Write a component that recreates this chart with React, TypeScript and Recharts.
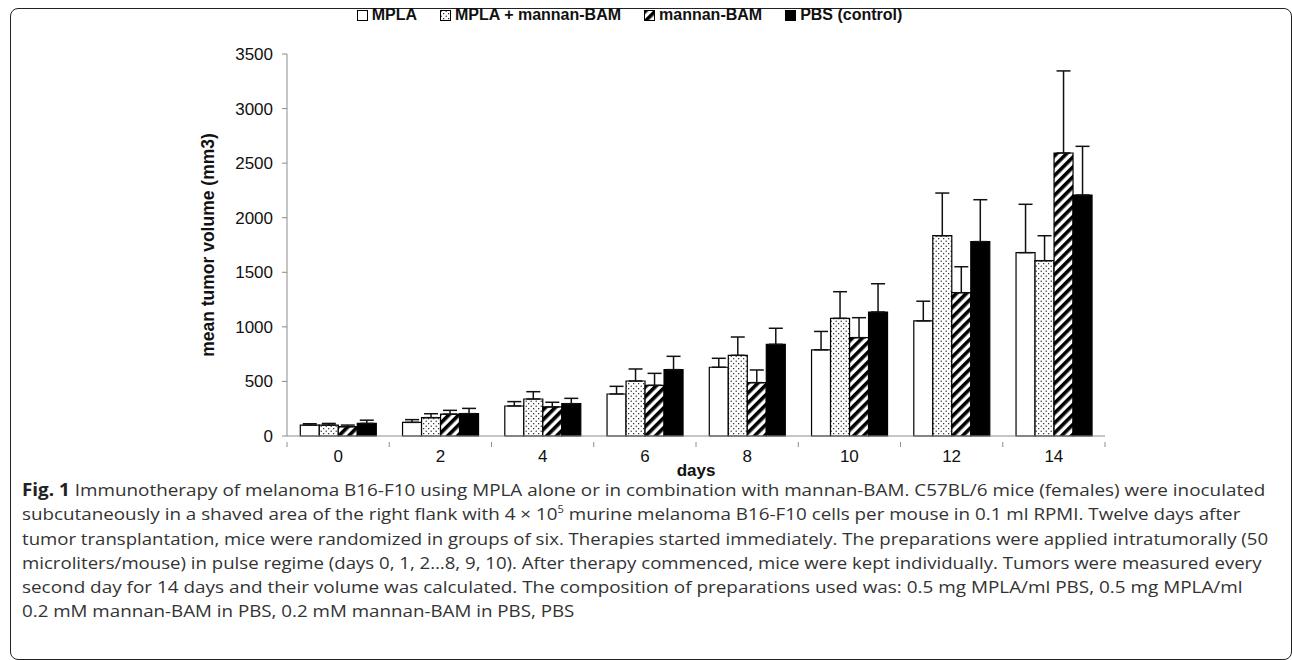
import React, { useLayoutEffect, useRef, useState } from 'react';
import { BarChart, Bar, XAxis, YAxis, ErrorBar } from 'recharts';

// days after therapy start
const DAYS = ['0', '2', '4', '6', '8', '10', '12', '14'];

// mean tumor volume (mm3) per group
const MPLA = [100, 125, 275, 385, 630, 790, 1055, 1680];
const MPLA_MANNAN = [100, 168, 339, 504, 739, 1078, 1835, 1606];
const MANNAN = [85, 200, 266, 464, 489, 901, 1313, 2593];
const PBS = [115, 205, 296, 608, 840, 1136, 1781, 2208];

// upper error (SD) per group
const MPLA_ERR = [12, 25, 40, 70, 82, 168, 180, 443];
const MPLA_MANNAN_ERR = [15, 36, 67, 110, 168, 244, 391, 229];
const MANNAN_ERR = [15, 35, 43, 110, 116, 183, 238, 752];
const PBS_ERR = [30, 48, 49, 122, 147, 259, 384, 446];

const Y_TICKS = [0, 500, 1000, 1500, 2000, 2500, 3000, 3500];

const SERIES = [
    { key: 'mpla', name: 'MPLA', fill: '#fff' },
    { key: 'mplaMannan', name: 'MPLA + mannan-BAM', fill: 'url(#dots)' },
    { key: 'mannan', name: 'mannan-BAM', fill: 'url(#hatch)' },
    { key: 'pbs', name: 'PBS (control)', fill: '#000' },
];

const data = DAYS.map((day, i) => ({
    day,
    mpla: MPLA[i],
    mplaErr: [0, MPLA_ERR[i]],
    mplaMannan: MPLA_MANNAN[i],
    mplaMannanErr: [0, MPLA_MANNAN_ERR[i]],
    mannan: MANNAN[i],
    mannanErr: [0, MANNAN_ERR[i]],
    pbs: PBS[i],
    pbsErr: [0, PBS_ERR[i]],
}));

const FONT = 'Arial, "Liberation Sans", sans-serif';
const AXIS = '#8c8c8c';

const CHART_W = 1292;
const CHART_H = 500;
const PLOT_TOP = 54;
const PLOT_BOTTOM = 436;
const PLOT_LEFT = 287;
const PLOT_RIGHT = 1105;
const BAND = (PLOT_RIGHT - PLOT_LEFT) / DAYS.length;

// caption lines as broken in the figure, with the x where each line ends
const CAPTION_LEFT = 22;
const CAPTION_ENDS = [1265, 1240, 1268, 1262, 1243, 0];

const Patterns = ({ suffix = '' }: { suffix?: string }) => (
    <defs>
        <pattern id={`dots${suffix}`} width="5" height="5" patternUnits="userSpaceOnUse">
            <rect width="5" height="5" fill="#fff" />
            <circle cx="1.2" cy="1.2" r="0.65" fill="#000" />
            <circle cx="3.7" cy="3.7" r="0.65" fill="#000" />
        </pattern>
        <pattern id={`hatch${suffix}`} width="7" height="7" patternUnits="userSpaceOnUse" patternTransform="rotate(45)">
            <rect width="7" height="7" fill="#fff" />
            <rect width="3.6" height="7" fill="#000" />
        </pattern>
    </defs>
);

// Excel-style category ticks: tick marks sit between the groups
const DayTick = ({ x, y, payload, index }: any) => (
    <g>
        <line x1={x - BAND / 2} y1={y - 8} x2={x - BAND / 2} y2={y - 3} stroke={AXIS} />
        {index === DAYS.length - 1 && (
            <line x1={x + BAND / 2} y1={y - 8} x2={x + BAND / 2} y2={y - 3} stroke={AXIS} />
        )}
        <text x={x} y={y} dy="0.71em" textAnchor="middle" fontSize={17} fill="#111" fontFamily={FONT}>
            {payload.value}
        </text>
    </g>
);

const LegendRow = () => (
    <div
        style={{
            position: 'absolute',
            top: 6,
            left: 0,
            width: CHART_W,
            display: 'flex',
            justifyContent: 'center',
            gap: 23,
            paddingRight: 33,
            boxSizing: 'border-box',
            fontFamily: FONT,
            fontWeight: 'bold',
            fontSize: 16,
            color: '#111',
        }}
    >
        {SERIES.map((s, i) => (
            <div key={s.key} style={{ display: 'flex', alignItems: 'center', gap: 4 }}>
                <svg width={11} height={11}>
                    <Patterns suffix={`-lg${i}`} />
                    <rect
                        x={0.5}
                        y={0.5}
                        width={10}
                        height={10}
                        fill={s.fill.startsWith('url') ? s.fill.replace(')', `-lg${i})`) : s.fill}
                        stroke="#000"
                    />
                </svg>
                <span>{s.name}</span>
            </div>
        ))}
    </div>
);

const CAPTION_LINES: React.ReactNode[] = [
    <>
        <b style={{ color: '#222' }}>Fig. 1</b> Immunotherapy of melanoma B16-F10 using MPLA alone or in combination
        with mannan-BAM. C57BL/6 mice (females) were inoculated
    </>,
    <>
        subcutaneously in a shaved area of the right flank with 4 × 10
        <sup style={{ fontSize: 10, lineHeight: 0 }}>5</sup> murine melanoma B16-F10 cells per mouse in 0.1 ml RPMI.
        Twelve days after
    </>,
    <>
        tumor transplantation, mice were randomized in groups of six. Therapies started immediately. The preparations
        were applied intratumorally (50
    </>,
    <>
        microliters/mouse) in pulse regime (days 0, 1, 2…8, 9, 10). After therapy commenced, mice were kept
        individually. Tumors were measured every
    </>,
    <>
        second day for 14 days and their volume was calculated. The composition of preparations used was: 0.5 mg
        MPLA/ml PBS, 0.5 mg MPLA/ml
    </>,
    <>0.2 mM mannan-BAM in PBS, 0.2 mM mannan-BAM in PBS, PBS</>,
];

const Caption = () => {
    const refs = useRef<(HTMLSpanElement | null)[]>([]);
    const [scales, setScales] = useState<number[]>(CAPTION_LINES.map(() => 1));

    useLayoutEffect(() => {
        const widths = refs.current.map((el) => (el ? el.offsetWidth : 1));
        const fitted = CAPTION_ENDS.map((end, i) => (end ? (end - CAPTION_LEFT) / widths[i] : 0));
        const known = fitted.filter((f) => f > 0);
        const mean = known.reduce((a, b) => a + b, 0) / known.length;
        setScales(fitted.map((f) => (f > 0 ? f : mean)));
    }, []);

    return (
        <div
            style={{
                position: 'absolute',
                left: CAPTION_LEFT,
                top: 482,
                fontFamily: '"Open Sans", sans-serif',
                fontSize: 17,
                lineHeight: '16px',
                color: '#333',
                whiteSpace: 'nowrap',
            }}
        >
            {CAPTION_LINES.map((line, i) => (
                <div key={i} style={{ height: 24.3 }}>
                    <span
                        ref={(el) => {
                            refs.current[i] = el;
                        }}
                        style={{
                            display: 'inline-block',
                            transformOrigin: 'left center',
                            transform: `scaleX(${scales[i]})`,
                        }}
                    >
                        {line}
                    </span>
                </div>
            ))}
        </div>
    );
};

export default function App() {
    return (
        <div
            style={{
                position: 'fixed',
                left: 0,
                top: 0,
                width: 1292,
                height: 660,
                overflow: 'hidden',
                background: '#fff',
            }}
        >
            <div
                style={{
                    position: 'absolute',
                    left: 10,
                    top: 8,
                    width: 1282,
                    height: 652,
                    border: '1.5px solid #222',
                    borderRadius: 8,
                    boxSizing: 'border-box',
                }}
            />
            <div style={{ position: 'absolute', left: 0, top: 0 }}>
                <BarChart
                    width={CHART_W}
                    height={CHART_H}
                    data={data}
                    margin={{ top: PLOT_TOP, right: CHART_W - PLOT_RIGHT, bottom: 0, left: 0 }}
                    barCategoryGap="13%"
                    barGap={0}
                >
                    <Patterns />
                    <XAxis
                        dataKey="day"
                        height={CHART_H - PLOT_BOTTOM}
                        stroke={AXIS}
                        tickLine={false}
                        tick={<DayTick />}
                        tickMargin={8}
                        label={{
                            value: 'days',
                            position: 'insideBottom',
                            offset: CHART_H - 476,
                            fontFamily: FONT,
                            fontWeight: 'bold',
                            fontSize: 17,
                            fill: '#111',
                        }}
                    />
                    <YAxis
                        width={PLOT_LEFT}
                        domain={[0, 3500]}
                        ticks={Y_TICKS}
                        interval={0}
                        stroke={AXIS}
                        tickSize={5}
                        tickMargin={9}
                        tick={{ fontSize: 17, fill: '#111', fontFamily: FONT }}
                        label={{
                            value: 'mean tumor volume (mm3)',
                            angle: -90,
                            position: 'center',
                            dx: 64,
                            fontFamily: FONT,
                            fontWeight: 'bold',
                            fontSize: 17.5,
                            fill: '#111',
                        }}
                    />
                    {SERIES.map((s) => (
                        <Bar
                            key={s.key}
                            dataKey={s.key}
                            name={s.name}
                            fill={s.fill}
                            stroke="#000"
                            strokeWidth={1.2}
                            isAnimationActive={false}
                        >
                            <ErrorBar
                                dataKey={`${s.key}Err`}
                                direction="y"
                                width={7}
                                stroke="#111"
                                strokeWidth={1.5}
                            />
                        </Bar>
                    ))}
                </BarChart>
            </div>
            <LegendRow />
            <Caption />
        </div>
    );
}
